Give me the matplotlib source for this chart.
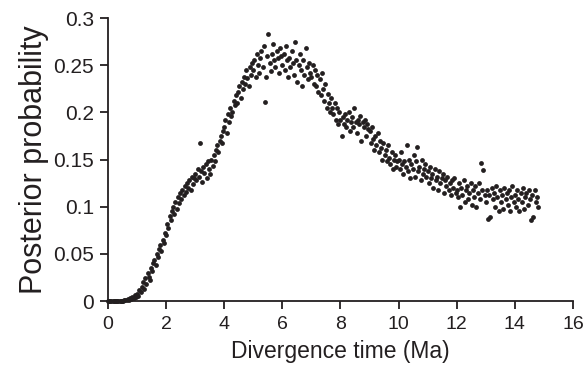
import numpy as np
import matplotlib
matplotlib.use("Agg")
import matplotlib.pyplot as plt

plt.rcParams['font.family'] = ['Liberation Sans', 'DejaVu Sans']

step = 0.04
y_0 = [0,0,0,0,0,0,0,0,0,0,0,0,0,0,0.001,0.001,0.001,0.002,0.001,0.003,0.002,0.004,0.003,0.006,0.004]
y_1 = [0.008,0.005,0.012,0.010,0.015,0.020,0.013,0.024,0.018,0.030,0.026,0.022,0.035,0.032,0.040,0.044,0.038,0.050,0.047,0.055,0.060,0.053,0.065,0.062,0.072]
y_2 = [0.070,0.082,0.078,0.090,0.086,0.095,0.100,0.092,0.105,0.098,0.110,0.104,0.115,0.108,0.118,0.112,0.122,0.116,0.125,0.120,0.128,0.118,0.132,0.124,0.130]
y_3 = [0.135,0.128,0.140,0.132,0.168,0.138,0.126,0.142,0.136,0.145,0.130,0.148,0.140,0.135,0.150,0.143,0.155,0.148,0.160,0.165,0.158,0.170,0.175,0.168,0.180]
y_4 = [0.185,0.192,0.178,0.198,0.190,0.205,0.196,0.200,0.212,0.208,0.218,0.210,0.222,0.228,0.215,0.232,0.225,0.238,0.230,0.245,0.236,0.228,0.248,0.240,0.252]
y_5 = [0.245,0.255,0.238,0.262,0.250,0.242,0.258,0.265,0.248,0.270,0.211,0.238,0.260,0.283,0.252,0.244,0.262,0.272,0.256,0.248,0.265,0.258,0.242,0.268,0.260]
y_6 = [0.250,0.262,0.245,0.270,0.255,0.238,0.258,0.248,0.265,0.252,0.240,0.275,0.256,0.232,0.250,0.262,0.245,0.228,0.255,0.240,0.268,0.248,0.235,0.252,0.242]
y_7 = [0.238,0.250,0.230,0.245,0.228,0.240,0.222,0.235,0.218,0.242,0.225,0.212,0.230,0.205,0.220,0.210,0.200,0.215,0.205,0.198,0.210,0.192,0.205,0.188,0.200]
y_8 = [0.192,0.175,0.195,0.188,0.198,0.185,0.192,0.200,0.180,0.190,0.195,0.185,0.205,0.190,0.178,0.192,0.188,0.196,0.170,0.190,0.185,0.192,0.175,0.188,0.182]
y_9 = [0.180,0.168,0.185,0.172,0.160,0.175,0.165,0.178,0.158,0.170,0.162,0.150,0.168,0.155,0.160,0.148,0.165,0.152,0.145,0.158,0.140,0.150,0.155,0.142,0.148]
y_10 = [0.150,0.140,0.158,0.145,0.135,0.148,0.142,0.165,0.138,0.150,0.130,0.145,0.140,0.155,0.132,0.148,0.163,0.138,0.142,0.128,0.150,0.135,0.140,0.145,0.132]
y_11 = [0.138,0.125,0.142,0.130,0.135,0.120,0.140,0.128,0.132,0.118,0.138,0.125,0.130,0.135,0.115,0.128,0.122,0.132,0.118,0.125,0.112,0.128,0.120,0.130,0.115]
y_12 = [0.118,0.110,0.125,0.100,0.120,0.112,0.128,0.105,0.118,0.122,0.108,0.115,0.125,0.102,0.118,0.110,0.122,0.100,0.115,0.125,0.108,0.146,0.118,0.139,0.112]
y_13 = [0.105,0.118,0.087,0.112,0.089,0.120,0.108,0.115,0.100,0.122,0.110,0.095,0.118,0.105,0.112,0.098,0.120,0.108,0.115,0.102,0.118,0.095,0.110,0.122,0.105]
y_14 = [0.112,0.100,0.118,0.108,0.095,0.115,0.105,0.120,0.098,0.110,0.115,0.102,0.118,0.108,0.086,0.112,0.089,0.118,0.105,0.110,0.100]

probability = np.array(y_0 + y_1 + y_2 + y_3 + y_4 + y_5 + y_6 + y_7 + y_8 + y_9 + y_10 + y_11 + y_12 + y_13 + y_14)
time_ma = np.round(np.arange(len(probability)) * step, 2)

x_ticks = [0, 2, 4, 6, 8, 10, 12, 14, 16]
y_ticks = [0, 0.05, 0.1, 0.15, 0.2, 0.25, 0.3]
y_tick_labels = ["0", "0.05", "0.1", "0.15", "0.2", "0.25", "0.3"]

ink = '#231f20'
fig = plt.figure(figsize=(5.87, 3.75), dpi=100)
ax = fig.add_axes([0.184, 0.197, 0.792, 0.755])
ax.scatter(time_ma, probability, s=12, color=ink, linewidths=0, zorder=3, clip_on=False)

ax.set_xlim(0, 16)
ax.set_ylim(0, 0.3)
ax.set_xticks(x_ticks)
ax.set_xticklabels([str(t) for t in x_ticks])
ax.set_yticks(y_ticks)
ax.set_yticklabels(y_tick_labels)
for s in ['top', 'right']:
    ax.spines[s].set_visible(False)
for s in ['left', 'bottom']:
    ax.spines[s].set_linewidth(1.3)
    ax.spines[s].set_color(ink)
ax.tick_params(axis='both', direction='out', length=6, width=1.3, colors=ink)
ax.tick_params(axis='x', labelsize=14, pad=5)
ax.tick_params(axis='y', labelsize=15, pad=4)
ax.set_xlabel("Divergence time (Ma)", fontsize=16.5, color=ink, labelpad=5)
ax.set_ylabel("Posterior probability", fontsize=22, color=ink, labelpad=3)

fig.savefig("out.png", dpi=100)
